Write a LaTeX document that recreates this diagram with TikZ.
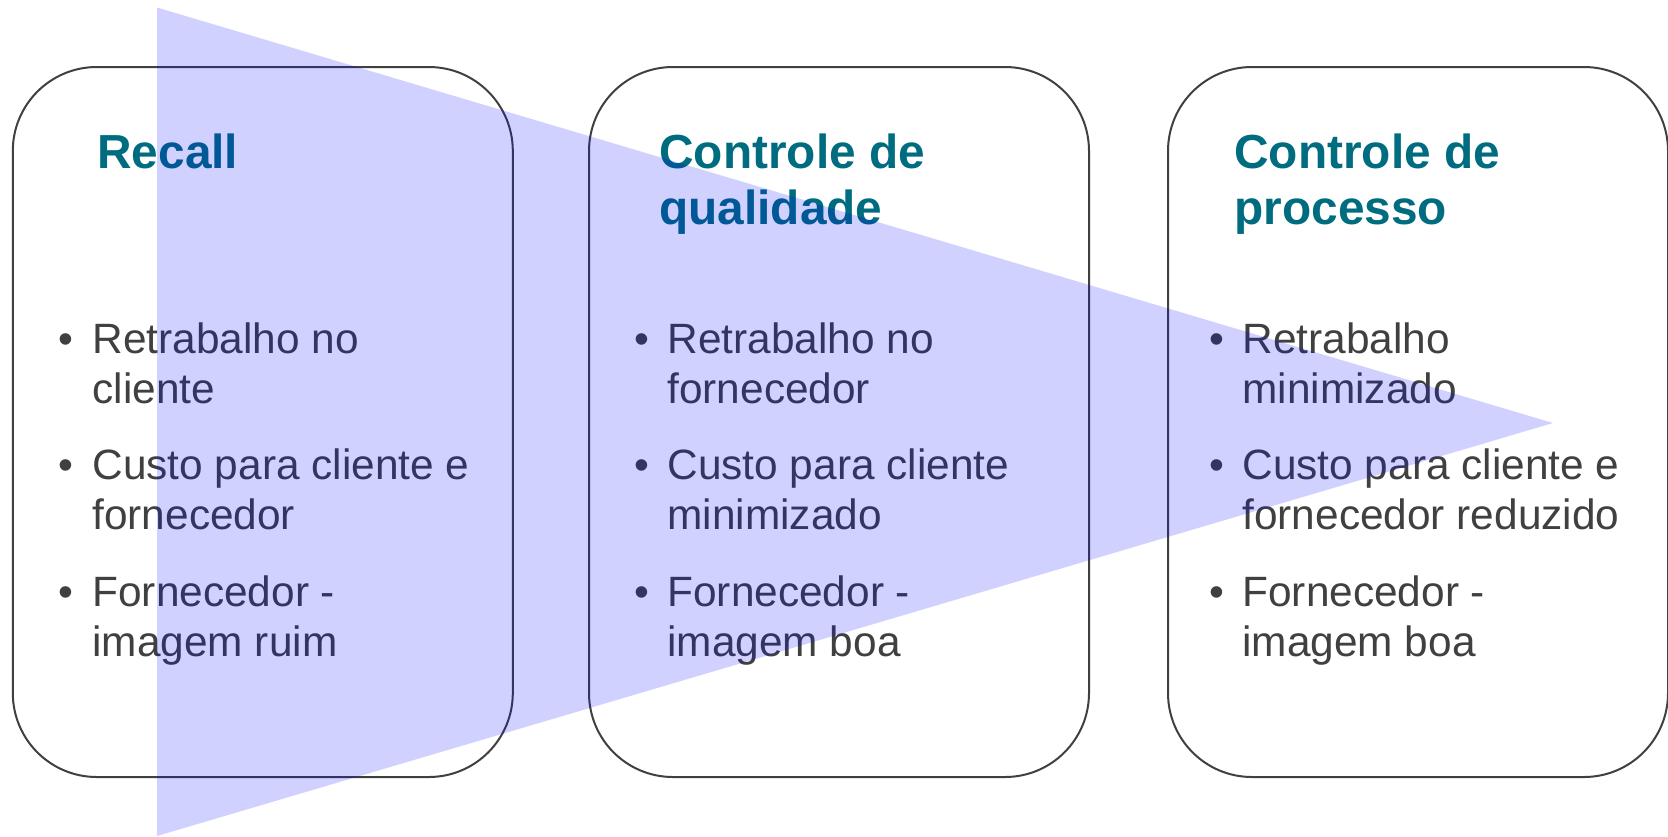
\documentclass[tikz,border=0pt]{standalone}
\usepackage{fontspec}
\setmainfont{Liberation Sans}
\definecolor{titlec}{HTML}{006C80}
\definecolor{txt}{HTML}{404040}
\definecolor{edge}{HTML}{404040}
\newcommand{\mytwo}[3]{\vtop{\baselineskip=#1\hbox{#2}\hbox{#3}}}
\begin{document}
\begin{tikzpicture}[x=0.5pt,y=-0.5pt,
  box/.style={draw=edge, line width=1pt, rounded corners=42pt, minimum width=250pt, minimum height=355pt, inner sep=0pt},
  ttl/.style={anchor=base west, inner sep=0pt, text=titlec, font=\bfseries\fontsize{23.9pt}{28.3pt}\selectfont},
  itm/.style={anchor=base west, inner sep=0pt, text=txt, font=\fontsize{21.2pt}{25pt}\selectfont},
  bul/.style={anchor=base west, inner sep=0pt, text=txt, font=\fontsize{21.2pt}{25pt}\selectfont}]
\useasboundingbox (0,0) rectangle (1668,836);
\node[box] (b1) at (262.8,422) {};
\node[box] (b2) at (839,422) {};
\node[box] (b3) at (1418,422) {};
% titles
\node[ttl] (t1) at (97,168) {Recall};
\node[ttl] (t2) at (659,168) {\mytwo{28.3pt}{Controle de}{qualidade}};
\node[ttl] (t3) at (1234,168) {\mytwo{28.3pt}{Controle de}{processo}};
% box 1
\node[bul] (d11) at (58,353) {•};
\node[itm] (i11) at (92,353) {\mytwo{25pt}{Retrabalho no}{cliente}};
\node[bul] (d12) at (58,479) {•};
\node[itm] (i12) at (92,479) {\mytwo{25pt}{Custo para cliente e}{fornecedor}};
\node[bul] (d13) at (58,606.5) {•};
\node[itm] (i13) at (92,606.5) {\mytwo{25pt}{Fornecedor -}{imagem ruim}};
% box 2
\node[bul] (d21) at (634,353) {•};
\node[itm] (i21) at (667,353) {\mytwo{25pt}{Retrabalho no}{fornecedor}};
\node[bul] (d22) at (634,479) {•};
\node[itm] (i22) at (667,479) {\mytwo{25pt}{Custo para cliente}{minimizado}};
\node[bul] (d23) at (634,606.5) {•};
\node[itm] (i23) at (667,606.5) {\mytwo{25pt}{Fornecedor -}{imagem boa}};
% box 3
\node[bul] (d31) at (1209,353) {•};
\node[itm] (i31) at (1242,353) {\mytwo{25pt}{Retrabalho}{minimizado}};
\node[bul] (d32) at (1209,479) {•};
\node[itm] (i32) at (1242,479) {\mytwo{25pt}{Custo para cliente e}{fornecedor reduzido}};
\node[bul] (d33) at (1209,606.5) {•};
\node[itm] (i33) at (1242,606.5) {\mytwo{25pt}{Fornecedor -}{imagem boa}};
% translucent arrow triangle
\fill[blue, fill opacity=0.18] (157,7.5) -- (1553,423) -- (157,836) -- cycle;
\end{tikzpicture}
\end{document}
